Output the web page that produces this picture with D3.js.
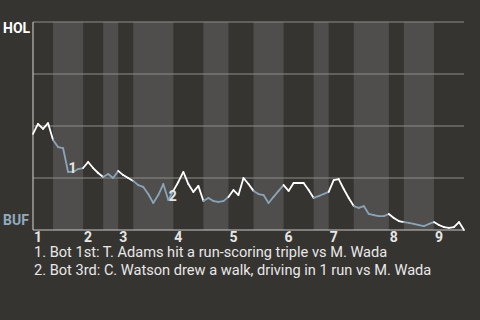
<!DOCTYPE html>
<html>
<head>
<meta charset="utf-8">
<script src="https://cdn.jsdelivr.net/npm/d3@7"></script>
<style>
  body { margin: 0; background: #363431; }
  svg text { font-family: Roboto, "Noto Sans", sans-serif; }
</style>
</head>
<body>
<div id="chart"></div>
<script>
const width = 480;
const height = 320;

// plays per half-inning (top 1st, bot 1st, top 2nd ...)
const halfPlays = [4, 6, 4, 3, 3, 8, 6, 5, 5, 6, 6, 3, 5, 7, 3, 6, 6];
const innings = ["1", "2", "3", "4", "5", "6", "7", "8", "9"];

// HOL win probability (%) after each play
const holWinPct = [
  46.2, 51.0, 48.6, 51.4, 43.3,
  39.9, 39.4, 27.9, 27.9, 29.3, 29.8,
  32.7, 29.8, 27.4, 25.5,
  26.9, 25.0, 28.4,
  26.4, 25.0, 23.6,
  21.6, 20.7, 17.3, 13.0, 16.8, 22.1, 14.4, 18.8,
  23.1, 27.9, 22.1, 18.3, 21.2, 13.9,
  15.4, 13.9, 13.5, 13.9, 15.9,
  19.2, 16.8, 25.0, 22.1, 18.8,
  17.3, 16.8, 13.0, 15.9, 18.8, 21.6,
  18.8, 22.6, 22.6, 22.6, 19.2, 15.4,
  16.3, 17.3, 18.3,
  24.0, 24.5, 19.7, 15.4, 11.5,
  10.6, 11.5, 7.7, 7.2, 6.7, 6.7, 7.7,
  5.8, 4.3, 3.8,
  3.4, 2.9, 2.4, 1.9, 2.9, 3.8,
  2.4, 1.4, 1.0, 1.4, 3.8, 0
];

const noteLabels = ["1", "2"];
const notePlays = [7, 27];
const notes = [
  "1. Bot 1st: T. Adams hit a run-scoring triple vs M. Wada",
  "2. Bot 3rd: C. Watson drew a walk, driving in 1 run vs M. Wada"
];

const gridTicks = [0, 25, 50, 75, 100];

const svg = d3.select("#chart")
  .append("svg")
  .attr("width", width)
  .attr("height", height);

const totalPlays = d3.sum(halfPlays);

const x = d3.scaleLinear()
  .domain([0, totalPlays])
  .range([33, 464]);

const y = d3.scaleLinear()
  .domain([0, 100])
  .range([230, 22]);

// half-inning bands
let start = 0;
const halves = halfPlays.map((n, i) => {
  const h = { start: start, end: start + n, bottom: i % 2 === 1 };
  start += n;
  return h;
});

svg.selectAll(".band")
  .data(halves.filter(d => d.bottom))
  .enter().append("rect")
  .attr("class", "band")
  .attr("x", d => x(d.start))
  .attr("y", y(100))
  .attr("width", d => x(d.end) - x(d.start))
  .attr("height", y(0) - y(100))
  .style("fill", "#504e4c");

// grid lines
svg.selectAll(".grid")
  .data(gridTicks)
  .enter().append("line")
  .attr("class", "grid")
  .attr("x1", x(0))
  .attr("x2", x(totalPlays))
  .attr("y1", d => y(d))
  .attr("y2", d => y(d))
  .style("stroke", d => d === 0 ? "#c8c8c8" : "#8c8c8a")
  .style("stroke-width", 1.2);

svg.append("line")
  .attr("x1", x(0))
  .attr("x2", x(0))
  .attr("y1", y(100))
  .attr("y2", y(0))
  .style("stroke", "#bdbdbb")
  .style("stroke-width", 1.2);

// line segments, coloured by which team is batting
const segs = [];
halves.forEach(h => {
  for (let i = h.start; i < h.end; i++) {
    segs.push({ i: i, bottom: h.bottom });
  }
});

svg.selectAll(".seg")
  .data(segs)
  .enter().append("line")
  .attr("class", "seg")
  .attr("x1", d => x(d.i))
  .attr("y1", d => y(holWinPct[d.i]))
  .attr("x2", d => x(d.i + 1))
  .attr("y2", d => y(holWinPct[d.i + 1]))
  .style("stroke", d => d.bottom ? "#8aa4b6" : "#ffffff")
  .style("stroke-width", 1.8)
  .style("stroke-linecap", "round");

// note markers
svg.selectAll(".mark")
  .data(noteLabels)
  .enter().append("text")
  .attr("class", "mark")
  .attr("x", (d, i) => x(notePlays[i]) + 0.5)
  .attr("y", (d, i) => y(holWinPct[notePlays[i]]) + 1)
  .style("fill", "#e6e6e6")
  .style("font-size", "14px")
  .style("font-weight", "bold")
  .text(d => d);

// team labels
svg.append("text")
  .attr("x", 3)
  .attr("y", 33)
  .style("fill", "#ffffff")
  .style("font-size", "14px")
  .style("font-weight", "bold")
  .text("HOL");

svg.append("text")
  .attr("x", 3)
  .attr("y", 225)
  .style("fill", "#8fabbf")
  .style("font-size", "14px")
  .style("font-weight", "bold")
  .text("BUF");

// inning labels at start of each top half
svg.selectAll(".inning")
  .data(innings)
  .enter().append("text")
  .attr("class", "inning")
  .attr("x", (d, i) => x(halves[i * 2].start) + 1)
  .attr("y", 242)
  .style("fill", "#e6e6e6")
  .style("font-size", "14px")
  .style("font-weight", "bold")
  .text(d => d);

// notes
svg.selectAll(".note")
  .data(notes)
  .enter().append("text")
  .attr("class", "note")
  .attr("x", 34)
  .attr("y", (d, i) => 257 + i * 18)
  .style("fill", "#e8e8e8")
  .style("font-size", "14.6px")
  .text(d => d);
</script>
</body>
</html>
